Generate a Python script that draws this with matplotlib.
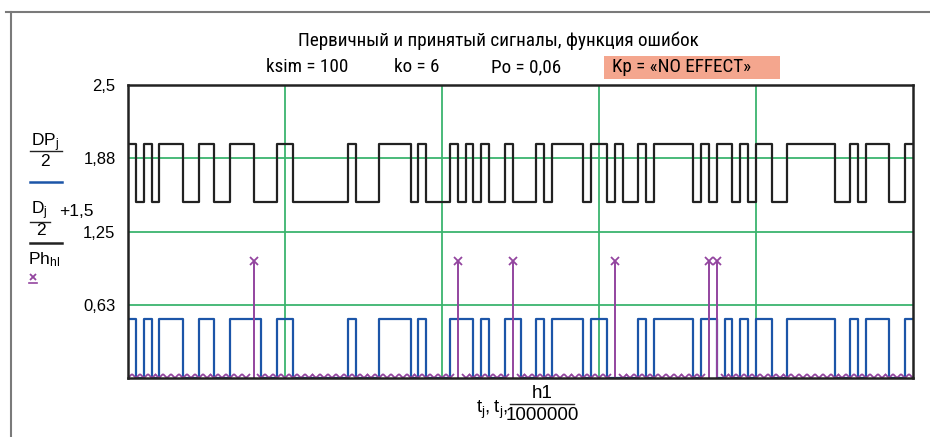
import numpy as np
import matplotlib.pyplot as plt
from matplotlib import font_manager
from matplotlib.patches import Rectangle
from matplotlib.lines import Line2D

# primary signal D (black trace, drawn as D/2 + 1.5), 100 symbols
D = [1, 0, 1, 0, 1, 1, 1, 0, 0, 1,
     1, 0, 0, 1, 1, 1, 0, 0, 0, 1,
     1, 0, 0, 0, 0, 0, 0, 0, 1, 0,
     0, 0, 1, 1, 1, 1, 0, 1, 0, 0,
     0, 1, 0, 1, 0, 1, 0, 0, 1, 0,
     0, 0, 1, 0, 1, 1, 1, 1, 0, 1,
     1, 0, 1, 0, 0, 1, 0, 1, 1, 1,
     1, 1, 0, 1, 0, 1, 1, 0, 1, 0,
     1, 1, 0, 0, 1, 1, 1, 1, 1, 1,
     0, 0, 1, 0, 1, 1, 1, 0, 0, 1]
# positions of the symbol errors (ko = 6)
err_idx = [16, 42, 49, 62, 74, 75]

ytick_vals = [0.625, 1.25, 1.875, 2.5]
ytick_labels = ["0,63", "1,25", "1,88", "2,5"]
xgrid_vals = [20, 40, 60, 80]

D = np.array(D)
DP = D.copy()
DP[err_idx] = 1 - DP[err_idx]
t = np.arange(len(D) + 1)
h1 = np.arange(len(D) + 1)
Ph = np.zeros(len(h1))
Ph[err_idx] = 1

W, H = 930, 437

names = {f.name for f in font_manager.fontManager.ttflist}
head_font = next((n for n in ["Liberation Sans Narrow", "Roboto Condensed", "Roboto"] if n in names), "DejaVu Sans")
plt.rcParams["font.family"] = ["Liberation Sans", "DejaVu Sans"]
plt.rcParams["mathtext.default"] = "regular"

black = "#222222"
blue = "#1c55a8"
purple = "#93459f"
green = "#3cb46e"


def fx(x):
    return x / W


def fy(y):
    return 1 - y / H


fig = plt.figure(figsize=(W / 100, H / 100), dpi=100)
ax = fig.add_axes([fx(128), fy(378), (913 - 128) / W, (378 - 85) / H])

ax.step(t, np.append(D, D[-1]) / 2 + 1.5, where="post", color=black, lw=1.6, zorder=3)
ax.step(t, np.append(DP, DP[-1]) / 2, where="post", color=blue, lw=1.6, zorder=3)
ax.vlines(err_idx, 0, 1, color=purple, lw=1.4, zorder=4)
ax.plot(h1, Ph, "x", ms=6, mew=1.3, color=purple, zorder=4)

ax.set_xlim(0, 100)
ax.set_ylim(0, 2.5)
ax.set_yticks(ytick_vals)
ax.set_yticklabels(ytick_labels, fontsize=12)
ax.set_xticks(xgrid_vals)
ax.set_xticklabels([])
ax.tick_params(length=0, pad=9)
for v in ytick_vals[:-1]:
    ax.axhline(v, color=green, lw=1.3, zorder=1)
for v in xgrid_vals:
    ax.axvline(v, color=green, lw=1.3, zorder=1)
for s in ax.spines.values():
    s.set_linewidth(1.8)
    s.set_color(black)
    s.set_zorder(5)

# outer frame
fig.add_artist(Line2D([fx(6), 1], [fy(12), fy(12)], color="#7a7a7a", lw=1.5))
fig.add_artist(Line2D([fx(11), fx(11)], [fy(12), 0], color="#7a7a7a", lw=1.5))

# header
fig.text(fx(498), fy(41), "Первичный и принятый сигналы, функция ошибок",
         ha="center", va="center", fontsize=13.8, family=head_font)
fig.add_artist(Rectangle((fx(604), fy(79)), 176 / W, 23 / H, transform=fig.transFigure,
                         facecolor="#f4a68e", edgecolor="none"))
for x, s in [(266, "ksim = 100"), (394, "ko = 6"), (491, "Po = 0,06"), (612, "Kp = «NO EFFECT»")]:
    fig.text(fx(x), fy(67), s, ha="left", va="center", fontsize=13.8, family=head_font)

# Mathcad-style trace labels on the left
fig.text(fx(31), fy(143), r"$DP_j$", ha="left", va="center", fontsize=12.5)
fig.add_artist(Line2D([fx(30), fx(62)], [fy(151), fy(151)], color=black, lw=1))
fig.text(fx(45), fy(161), "2", ha="center", va="center", fontsize=12.5)
fig.add_artist(Line2D([fx(30), fx(62)], [fy(182), fy(182)], color=blue, lw=1.8))
fig.text(fx(31), fy(211), r"$D_j$", ha="left", va="center", fontsize=12.5)
fig.text(fx(59), fy(212), "+1,5", ha="left", va="center", fontsize=12.5)
fig.add_artist(Line2D([fx(30), fx(50)], [fy(222), fy(222)], color=black, lw=1))
fig.text(fx(41), fy(231), "2", ha="center", va="center", fontsize=12.5)
fig.add_artist(Line2D([fx(30), fx(62)], [fy(243), fy(243)], color=black, lw=1.8))
fig.text(fx(28), fy(260), r"$Ph_{hl}$", ha="left", va="center", fontsize=12.5)
fig.add_artist(Line2D([fx(33)], [fy(277)], marker="x", ms=5, mew=1.3, color=purple))
fig.add_artist(Line2D([fx(29), fx(37)], [fy(283), fy(283)], color=purple, lw=1.2))

# x axis label: t_j, t_j, h1 / 1000000
fig.text(fx(508), fy(410), r"$t_j,t_j,$", ha="right", va="center", fontsize=13.5)
fig.text(fx(542), fy(394), "h1", ha="center", va="center", fontsize=13.5)
fig.add_artist(Line2D([fx(510), fx(574)], [fy(404), fy(404)], color=black, lw=1))
fig.text(fx(542), fy(416), "1000000", ha="center", va="center", fontsize=13.5)

fig.savefig("out.png", dpi=100)
